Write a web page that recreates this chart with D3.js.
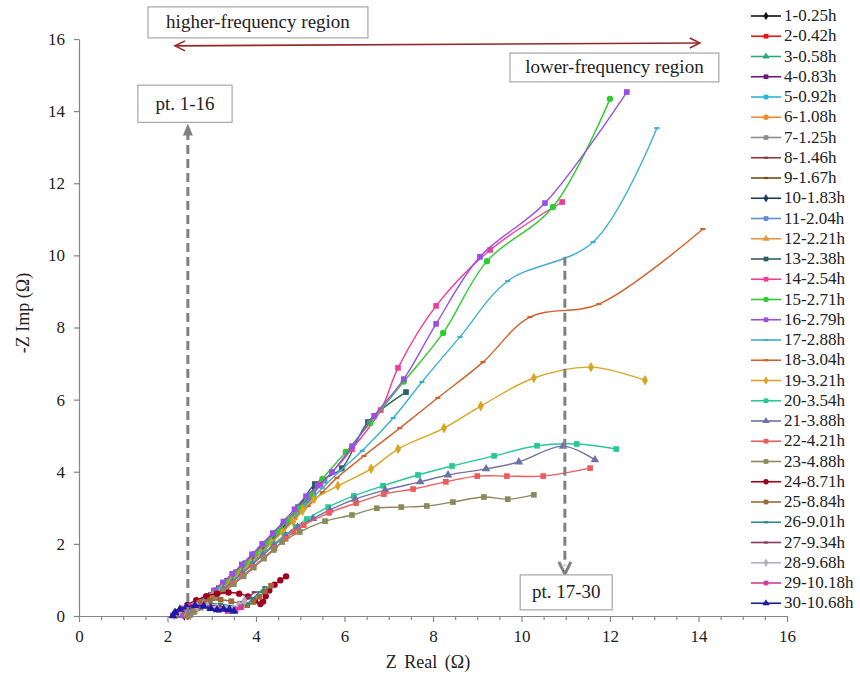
<!DOCTYPE html>
<html>
<head>
<meta charset="utf-8">
<script src="https://cdn.jsdelivr.net/npm/d3@7"></script>
<style>
  body { margin: 0; background: #fff; }
  svg text { font-family: "Liberation Serif", "DejaVu Serif", "Times New Roman", serif; fill: #222; }
</style>
</head>
<body>
<div class="chart"></div>
<script>
var svgWidth = 860;
var svgHeight = 676;

var margin = { top: 39, right: 73, bottom: 60, left: 79 };
var width = svgWidth - margin.left - margin.right;
var height = svgHeight - margin.top - margin.bottom;
var serif = "'Liberation Serif', 'DejaVu Serif', 'Times New Roman', serif";

// legend labels (sample number - time)
var labels = ["1-0.25h", "2-0.42h", "3-0.58h", "4-0.83h", "5-0.92h", "6-1.08h", "7-1.25h", "8-1.46h",
  "9-1.67h", "10-1.83h", "11-2.04h", "12-2.21h", "13-2.38h", "14-2.54h", "15-2.71h", "16-2.79h",
  "17-2.88h", "18-3.04h", "19-3.21h", "20-3.54h", "21-3.88h", "22-4.21h", "23-4.88h", "24-8.71h",
  "25-8.84h", "26-9.01h", "27-9.34h", "28-9.68h", "29-10.18h", "30-10.68h"];

var xTicks = [0, 2, 4, 6, 8, 10, 12, 14, 16];
var xMinorTicks = [0.5, 1, 1.5, 2.5, 3, 3.5, 4.5, 5, 5.5, 6.5, 7, 7.5, 8.5, 9, 9.5, 10.5, 11, 11.5, 12.5, 13, 13.5, 14.5, 15, 15.5];
var yTicks = [0, 2, 4, 6, 8, 10, 12, 14, 16];

// [Z real, -Z imag] points
var pts1 = [[2.38,0.02],[2.46,0.1],[2.56,0.18],[2.68,0.26],[2.82,0.36],[2.98,0.5],[3.14,0.66],[3.3,0.84],[3.48,1.04],[3.66,1.26],[3.84,1.48],[4.02,1.7],[4.2,1.92]];
var pts2 = [[2.36,0.02],[2.44,0.1],[2.55,0.19],[2.68,0.28],[2.83,0.4],[3.0,0.55],[3.17,0.73],[3.35,0.93],[3.53,1.14],[3.72,1.36],[3.91,1.6],[4.1,1.84],[4.3,2.08]];
var pts3 = [[2.4,0.02],[2.5,0.12],[2.62,0.22],[2.76,0.33],[2.92,0.47],[3.09,0.64],[3.27,0.84],[3.46,1.06],[3.66,1.3],[3.86,1.55],[4.07,1.81],[4.28,2.07],[4.5,2.34]];
var pts4 = [[2.34,0.02],[2.42,0.11],[2.53,0.2],[2.66,0.3],[2.81,0.42],[2.98,0.58],[3.16,0.77],[3.35,0.98],[3.55,1.21],[3.76,1.46],[3.97,1.72],[4.19,1.99],[4.42,2.27],[4.65,2.56]];
var pts5 = [[2.42,0.02],[2.52,0.12],[2.64,0.23],[2.79,0.35],[2.96,0.5],[3.14,0.68],[3.33,0.89],[3.53,1.12],[3.74,1.37],[3.95,1.63],[4.17,1.9],[4.39,2.18],[4.62,2.47],[4.85,2.77]];
var pts6 = [[2.44,0.02],[2.54,0.13],[2.67,0.25],[2.82,0.38],[2.99,0.54],[3.18,0.73],[3.38,0.95],[3.59,1.19],[3.8,1.45],[4.02,1.72],[4.24,2.0],[4.47,2.29],[4.7,2.59],[4.94,2.9]];
var pts7 = [[2.4,0.02],[2.5,0.12],[2.63,0.24],[2.78,0.37],[2.95,0.53],[3.14,0.72],[3.34,0.94],[3.55,1.18],[3.77,1.44],[3.99,1.71],[4.22,1.99],[4.45,2.28],[4.69,2.58],[4.93,2.9],[5.15,3.2]];
var pts8 = [[2.45,0.02],[2.56,0.14],[2.7,0.27],[2.86,0.41],[3.04,0.58],[3.24,0.78],[3.45,1.0],[3.67,1.24],[3.89,1.5],[4.12,1.77],[4.35,2.05],[4.58,2.34],[4.82,2.64],[5.06,2.96],[5.28,3.28]];
var pts9 = [[2.43,0.02],[2.54,0.13],[2.68,0.26],[2.84,0.4],[3.02,0.57],[3.22,0.77],[3.43,0.99],[3.65,1.23],[3.88,1.49],[4.11,1.77],[4.34,2.06],[4.58,2.36],[4.82,2.67],[5.06,2.99],[5.3,3.32]];
var pts10 = [[2.46,0.02],[2.57,0.14],[2.71,0.27],[2.87,0.42],[3.05,0.6],[3.25,0.8],[3.46,1.03],[3.68,1.28],[3.9,1.54],[4.13,1.82],[4.36,2.11],[4.6,2.42],[4.84,2.74],[5.08,3.1],[5.32,3.55]];
var pts11 = [[2.44,0.02],[2.55,0.13],[2.69,0.26],[2.85,0.41],[3.03,0.58],[3.23,0.79],[3.44,1.02],[3.66,1.27],[3.88,1.53],[4.11,1.81],[4.34,2.1],[4.58,2.41],[4.82,2.73],[5.06,3.06],[5.3,3.4],[5.55,3.75]];
var pts12 = [[2.42,0.02],[2.53,0.13],[2.67,0.26],[2.83,0.4],[3.01,0.57],[3.21,0.77],[3.42,0.99],[3.64,1.24],[3.86,1.5],[4.09,1.78],[4.32,2.07],[4.56,2.37],[4.8,2.68],[5.05,3.0]];
var pts13 = [[2.45,0.02],[2.56,0.14],[2.7,0.27],[2.86,0.42],[3.04,0.6],[3.24,0.81],[3.45,1.04],[3.67,1.29],[3.9,1.56],[4.13,1.85],[4.37,2.16],[4.61,2.5],[4.95,3.02],[5.33,3.66],[5.94,4.1],[6.53,5.38],[7.39,6.21]];
var pts14 = [[2.38,0.02],[2.48,0.12],[2.6,0.23],[2.75,0.36],[2.92,0.52],[3.11,0.71],[3.31,0.93],[3.52,1.17],[3.74,1.43],[3.97,1.71],[4.2,2.0],[4.44,2.3],[4.68,2.62],[4.93,2.96],[5.2,3.32],[5.45,3.66],[5.72,3.99],[6.17,4.63],[6.82,5.71],[7.21,6.88],[8.07,8.6],[9.29,10.15],[10.92,11.48]];
var pts15 = [[2.4,0.02],[2.5,0.13],[2.63,0.25],[2.78,0.38],[2.95,0.54],[3.14,0.73],[3.34,0.95],[3.55,1.19],[3.77,1.45],[4.0,1.73],[4.23,2.02],[4.47,2.33],[4.71,2.65],[4.96,2.99],[5.22,3.36],[5.5,3.8],[6.03,4.55],[6.58,5.35],[7.34,6.5],[8.23,7.85],[9.22,9.84],[10.71,11.34],[12.0,14.34]];
var pts16 = [[2.33,0.02],[2.42,0.12],[2.54,0.23],[2.69,0.36],[2.86,0.52],[3.05,0.71],[3.25,0.93],[3.46,1.17],[3.68,1.43],[3.91,1.71],[4.14,2.0],[4.38,2.3],[4.62,2.62],[4.87,2.96],[5.13,3.32],[5.4,3.62],[5.72,3.99],[6.17,4.71],[6.67,5.55],[7.34,6.57],[8.07,8.1],[9.06,9.96],[10.53,11.45],[12.38,14.53]];
var pts17 = [[2.42,0.02],[2.53,0.13],[2.67,0.25],[2.83,0.39],[3.01,0.56],[3.21,0.76],[3.42,0.98],[3.64,1.22],[3.87,1.48],[4.1,1.76],[4.34,2.06],[4.59,2.38],[4.86,2.72],[5.15,3.1],[5.5,3.55],[5.9,4.02],[6.4,4.58],[7.1,5.49],[7.75,6.49],[8.61,7.74],[9.69,9.29],[11.62,10.37],[13.06,13.53]];
var pts18 = [[2.44,0.02],[2.55,0.13],[2.69,0.26],[2.85,0.4],[3.03,0.57],[3.23,0.77],[3.44,0.99],[3.66,1.23],[3.89,1.49],[4.12,1.77],[4.36,2.06],[4.61,2.37],[4.88,2.7],[5.18,3.05],[5.5,3.43],[5.83,3.83],[6.44,4.44],[7.25,5.21],[8.11,6.05],[9.13,7.04],[10.19,8.29],[11.75,8.65],[14.1,10.73]];
var pts19 = [[2.43,0.02],[2.54,0.13],[2.68,0.25],[2.84,0.39],[3.02,0.56],[3.22,0.75],[3.43,0.97],[3.65,1.21],[3.88,1.47],[4.11,1.74],[4.35,2.03],[4.6,2.33],[4.84,2.62],[5.05,2.92],[5.31,3.24],[5.85,3.61],[6.6,4.08],[7.21,4.63],[8.25,5.21],[9.08,5.82],[10.28,6.6],[11.57,6.9],[12.79,6.54]];
var pts20 = [[2.46,0.02],[2.57,0.13],[2.71,0.25],[2.87,0.39],[3.05,0.55],[3.25,0.74],[3.46,0.96],[3.68,1.2],[3.91,1.45],[4.15,1.72],[4.4,1.99],[4.66,2.25],[4.9,2.47],[5.15,2.69],[5.63,3.02],[6.21,3.33],[6.87,3.61],[7.66,3.91],[8.43,4.16],[9.38,4.44],[10.35,4.72],[11.25,4.77],[12.14,4.63]];
var pts21 = [[2.47,0.02],[2.58,0.13],[2.72,0.25],[2.88,0.39],[3.06,0.55],[3.26,0.74],[3.47,0.95],[3.69,1.18],[3.92,1.43],[4.16,1.69],[4.41,1.96],[4.67,2.22],[4.94,2.46],[5.29,2.7],[5.67,2.94],[6.24,3.24],[6.92,3.49],[7.71,3.72],[8.34,3.91],[9.2,4.08],[9.94,4.27],[10.94,4.71],[11.66,4.33]];
var pts22 = [[2.48,0.02],[2.59,0.12],[2.73,0.24],[2.89,0.37],[3.07,0.52],[3.27,0.7],[3.48,0.9],[3.7,1.12],[3.93,1.36],[4.17,1.61],[4.42,1.88],[4.67,2.14],[4.85,2.33],[5.08,2.52],[5.65,2.86],[6.26,3.13],[6.89,3.38],[7.55,3.52],[8.29,3.72],[9.0,3.88],[9.67,3.88],[10.49,3.88],[11.55,4.1]];
var pts23 = [[2.5,0.02],[2.61,0.12],[2.75,0.23],[2.91,0.36],[3.09,0.51],[3.29,0.68],[3.5,0.88],[3.72,1.1],[3.95,1.34],[4.18,1.59],[4.4,1.83],[4.59,2.05],[4.99,2.33],[5.56,2.63],[6.17,2.8],[6.73,2.99],[7.28,3.02],[7.86,3.05],[8.45,3.16],[9.15,3.3],[9.69,3.24],[10.28,3.36]];
var pts24 = [[2.2,0.02],[2.3,0.17],[2.45,0.31],[2.65,0.44],[2.88,0.55],[3.12,0.62],[3.38,0.65],[3.62,0.62],[3.82,0.54],[3.98,0.42],[4.1,0.33],[4.16,0.4],[4.22,0.55],[4.3,0.71],[4.42,0.87],[4.55,0.99],[4.68,1.1]];
var pts25 = [[2.2,0.02],[2.32,0.15],[2.5,0.27],[2.72,0.37],[2.96,0.43],[3.2,0.45],[3.44,0.41],[3.64,0.34],[3.8,0.3],[3.94,0.39],[4.07,0.53],[4.2,0.68],[4.34,0.84]];
var pts26 = [[2.18,0.02],[2.29,0.13],[2.47,0.23],[2.7,0.3],[2.95,0.34],[3.2,0.33],[3.44,0.28],[3.64,0.25],[3.8,0.34],[3.94,0.5],[4.08,0.66],[4.2,0.8]];
var pts27 = [[2.16,0.02],[2.28,0.14],[2.46,0.23],[2.68,0.29],[2.92,0.3],[3.16,0.28],[3.38,0.23],[3.55,0.23],[3.7,0.35],[3.84,0.52],[3.96,0.66]];
var pts28 = [[2.15,0.02],[2.27,0.13],[2.45,0.21],[2.67,0.26],[2.9,0.27],[3.12,0.23],[3.32,0.18],[3.48,0.2],[3.62,0.3],[3.74,0.42]];
var pts29 = [[2.12,0.01],[2.2,0.12],[2.34,0.21],[2.53,0.27],[2.75,0.28],[2.96,0.23],[3.16,0.17],[3.36,0.14],[3.54,0.17],[3.66,0.24]];
var pts30 = [[2.12,0.01],[2.17,0.1],[2.28,0.19],[2.43,0.25],[2.62,0.29],[2.82,0.27],[2.98,0.21],[3.12,0.17],[3.27,0.19],[3.4,0.18],[3.5,0.13]];

var allSeries = [pts1, pts2, pts3, pts4, pts5, pts6, pts7, pts8, pts9, pts10, pts11, pts12, pts13, pts14, pts15,
  pts16, pts17, pts18, pts19, pts20, pts21, pts22, pts23, pts24, pts25, pts26, pts27, pts28, pts29, pts30];

// styles
var colors = ["#111111", "#e8141b", "#2aa876", "#6a1b7a", "#2bb5e0", "#f08a24", "#8c8c8c", "#8b3a3a",
  "#7a4a1a", "#1f3a5a", "#5b8fd0", "#e8943a", "#2c5f5f", "#f03c96", "#2ecc2e", "#9b4de8",
  "#3cb0d0", "#d2602a", "#d9a520", "#27c79a", "#7070a8", "#f05a5a", "#8c8a5a", "#a0001e",
  "#9a6a3a", "#2a8a8a", "#8a3a5a", "#b0b0c0", "#d03c9a", "#1a1aa8"];
var shapes = ["diamond", "square", "triangle", "square", "square", "circle", "square", "dash",
  "dash", "diamond", "square", "triangle", "square", "square", "circle", "square",
  "dash", "dash", "diamond", "square", "triangle", "square", "square", "circle",
  "square", "dash", "dash", "diamond", "square", "triangle"];

var svg = d3.select(".chart")
  .append("svg")
  .attr("width", svgWidth)
  .attr("height", svgHeight)
  .attr("font-family", serif);

var chartGroup = svg.append("g")
  .attr("transform", `translate(${margin.left}, ${margin.top})`);

var xScale = d3.scaleLinear().domain([0, 16]).range([0, width]);
var yScale = d3.scaleLinear().domain([0, 16]).range([height, 0]);

function markerPath(shape, size) {
  if (shape == "dash") {
    var w = Math.sqrt(size) * 0.45, h = 1.1;
    return `M${-w},${-h}H${w}V${h}H${-w}Z`;
  }
  var t = { diamond: d3.symbolDiamond, square: d3.symbolSquare, triangle: d3.symbolTriangle, circle: d3.symbolCircle }[shape];
  return d3.symbol().type(t).size(size)();
}

// axes
var bottomAxis = d3.axisBottom(xScale).tickValues(xTicks).tickSize(6).tickSizeOuter(0).tickPadding(8);
var minorAxis = d3.axisBottom(xScale).tickValues(xMinorTicks).tickSize(4).tickFormat("").tickSizeOuter(0);
var leftAxis = d3.axisLeft(yScale).tickValues(yTicks).tickSize(5).tickSizeOuter(0).tickPadding(9);

chartGroup.append("g")
  .attr("transform", `translate(0, ${height})`)
  .call(minorAxis);
chartGroup.append("g")
  .attr("transform", `translate(0, ${height})`)
  .call(bottomAxis);
chartGroup.append("g")
  .call(leftAxis);

chartGroup.selectAll("g").attr("font-family", serif);
chartGroup.selectAll(".domain, .tick line").attr("stroke", "#868686").attr("stroke-width", 1.2);
chartGroup.selectAll(".tick text")
  .style("font-family", serif)
  .style("font-size", "17px")
  .attr("fill", "#222");

// axis labels
chartGroup.append("text")
  .attr("x", width / 2 - 5)
  .attr("y", height + 52)
  .attr("text-anchor", "middle")
  .style("font-size", "18px")
  .style("word-spacing", "3px")
  .text("Z Real (Ω)");

chartGroup.append("text")
  .attr("transform", "rotate(-90)")
  .attr("x", -274)
  .attr("y", 0 - margin.left + 29)
  .attr("text-anchor", "middle")
  .style("font-size", "18px")
  .text("-Z Imp (Ω)");

// data lines and markers
var line = d3.line()
  .x(d => xScale(d[0]))
  .y(d => yScale(d[1]))
  .curve(d3.curveCatmullRom.alpha(0.5));

allSeries.forEach(function(pts, i) {
  var g = chartGroup.append("g").attr("class", "series s" + (i + 1));
  g.append("path")
    .datum(pts)
    .attr("d", line)
    .attr("fill", "none")
    .attr("stroke", colors[i])
    .attr("stroke-width", 1.4);
  g.selectAll(".mk")
    .data(pts)
    .enter()
    .append("path")
    .attr("class", "mk")
    .attr("transform", d => `translate(${xScale(d[0])}, ${yScale(d[1])})`)
    .attr("d", markerPath(shapes[i], 32))
    .attr("fill", colors[i]);
});

// annotations
var annot = chartGroup.append("g");
var gray = "#808080";

function box(x0, x1, y0, y1, txt) {
  annot.append("rect")
    .attr("x", xScale(x0)).attr("y", yScale(y0))
    .attr("width", xScale(x1) - xScale(x0))
    .attr("height", yScale(y1) - yScale(y0))
    .attr("fill", "#fff")
    .attr("stroke", "#a6a6a6")
    .attr("stroke-width", 1.2);
  annot.append("text")
    .attr("x", (xScale(x0) + xScale(x1)) / 2)
    .attr("y", (yScale(y0) + yScale(y1)) / 2 + 6)
    .attr("text-anchor", "middle")
    .style("font-size", "19px")
    .text(txt);
}

// dashed arrow for pt. 1-16
annot.append("line")
  .attr("x1", xScale(2.46)).attr("y1", yScale(0))
  .attr("x2", xScale(2.46)).attr("y2", yScale(13.4))
  .attr("stroke", gray).attr("stroke-width", 3).attr("stroke-dasharray", "9,5");
annot.append("path")
  .attr("d", `M${xScale(2.46)},${yScale(13.66)}l-5,12l10,0Z`)
  .attr("fill", gray);

// dashed arrow for pt. 17-30
annot.append("line")
  .attr("x1", xScale(10.98)).attr("y1", yScale(9.96))
  .attr("x2", xScale(10.98)).attr("y2", yScale(1.4))
  .attr("stroke", gray).attr("stroke-width", 3).attr("stroke-dasharray", "9,5");
annot.append("path")
  .attr("d", `M${xScale(10.98) - 6},${yScale(1.5)}L${xScale(10.98)},${yScale(1.16)}L${xScale(10.98) + 6},${yScale(1.5)}`)
  .attr("fill", "none").attr("stroke", gray).attr("stroke-width", 3);

// double arrow frequency span
var ax0 = xScale(2.17), ay0 = yScale(15.81), ax1 = xScale(14.03), ay1 = yScale(15.89);
annot.append("line")
  .attr("x1", ax0).attr("y1", ay0).attr("x2", ax1).attr("y2", ay1)
  .attr("stroke", "#962828").attr("stroke-width", 1.6);
annot.append("path")
  .attr("d", `M${ax0 + 10},${ay0 - 5}L${ax0},${ay0}L${ax0 + 10},${ay0 + 5}M${ax1 - 10},${ay1 - 5}L${ax1},${ay1}L${ax1 - 10},${ay1 + 5}`)
  .attr("fill", "none").attr("stroke", "#962828").attr("stroke-width", 1.6);

box(1.56, 6.53, 16.89, 16.03, "higher-frequency region");
box(9.74, 14.46, 15.61, 14.81, "lower-frequency region");
box(1.33, 3.46, 14.72, 13.69, "pt. 1-16");
box(9.97, 12.05, 1.14, 0.17, "pt. 17-30");

// legend
var legend = svg.append("g").attr("class", "legend");
labels.forEach(function(lab, i) {
  var ly = 16 + i * 20.25;
  var item = legend.append("g").attr("transform", `translate(751, ${ly})`);
  item.append("line")
    .attr("x1", 0).attr("x2", 30).attr("y1", 0).attr("y2", 0)
    .attr("stroke", colors[i]).attr("stroke-width", 1.6);
  item.append("path")
    .attr("transform", "translate(15,0)")
    .attr("d", markerPath(shapes[i], 22))
    .attr("fill", colors[i]);
  item.append("text")
    .attr("x", 33)
    .attr("y", 5)
    .style("font-size", "17px")
    .text(lab);
});
</script>
</body>
</html>
